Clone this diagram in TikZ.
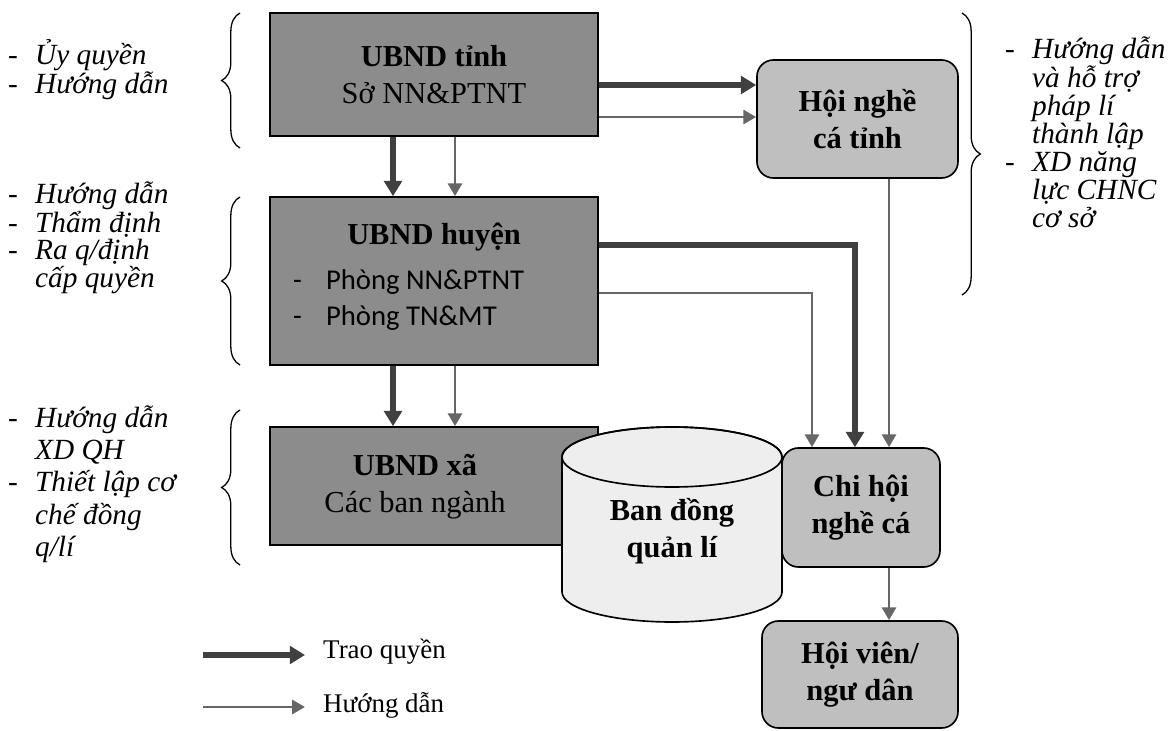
\documentclass[tikz,border=0pt]{standalone}
\usepackage{fontspec}
\setmainfont{Liberation Serif}
\newfontfamily\phongfont{Carlito}
\usetikzlibrary{arrows.meta,decorations.pathreplacing}
\definecolor{hopdam}{RGB}{140,140,140}
\definecolor{hopnhat}{RGB}{191,191,191}
\definecolor{trunhat}{RGB}{238,238,238}
\definecolor{muitrao}{RGB}{64,64,64}
\definecolor{muihd}{RGB}{102,102,102}
\newcommand{\gach}[1]{\makebox[23pt][l]{-}#1}
\newcommand{\lui}[1]{\hspace*{23pt}#1}
\tikzset{hopvuong/.style={draw, line width=1.4pt, fill=hopdam, inner sep=0pt, align=center, font=\fontsize{26}{31.5}\selectfont},
  hoptron/.style={draw, line width=1.4pt, fill=hopnhat, rounded corners=14pt, inner sep=0pt, align=center, font=\fontsize{26}{31}\selectfont\bfseries},
  trao/.style={draw=muitrao, line width=4.6pt, -{Triangle[length=13pt,width=15pt]}},
  huongdan/.style={draw=muihd, line width=2.5pt, -{Triangle[length=11pt,width=12pt]}},
  ngoac/.style={decorate, decoration={brace, amplitude=0.55cm}, line width=1.1pt},
  ghichu/.style={anchor=west, inner sep=0pt, align=left, font=\fontsize{25}{23}\selectfont\itshape},
  chuthich/.style={anchor=west, inner xsep=0.54cm, inner ysep=0pt, font=\fontsize{23}{26}\selectfont}}

\begin{document}
\begin{tikzpicture}[x=0.03cm, y=-0.03cm]
  \useasboundingbox (0,0) rectangle (1171,731);

  \node[hopvuong, minimum width=9.84cm, minimum height=3.69cm] (tinh) at (434,74.5) {\textbf{UBND tỉnh}\\Sở NN\&PTNT};
  \node[hopvuong, minimum width=9.84cm, minimum height=5.04cm] (huyen) at (434,281) {};
  \node[font=\fontsize{26}{31}\selectfont\bfseries] (huyenten) at (434,237) {UBND huyện};
  \node[anchor=west, inner sep=0pt, align=left, font=\phongfont\fontsize{24.5}{31.5}\selectfont] (phong) at (293,300) {\makebox[28pt][l]{-}Phòng NN\&PTNT\\\makebox[28pt][l]{-}Phòng TN\&MT};
  \node[hopvuong, minimum width=9.84cm, minimum height=3.54cm] (xa) at (434,486) {};
  \node[align=center, font=\fontsize{26}{31.5}\selectfont] (xaten) at (415,487) {\textbf{UBND xã}\\Các ban ngành};

  \filldraw[fill=trunhat, line width=1.4pt] (562,457) -- (562,592) arc[start angle=180, end angle=0, x radius=110, y radius=30] -- (782,457) arc[start angle=0, end angle=-180, x radius=110, y radius=30] -- cycle;
  \draw[line width=1.4pt] (672,457) ellipse[x radius=110, y radius=30];
  \node[align=center, font=\fontsize{26}{32}\selectfont\bfseries] (ban) at (672,531) {Ban đồng\\quản lí};

  \node[hoptron, minimum width=6.03cm, minimum height=3.54cm] (hoitinh) at (857.5,119) {Hội nghề\\cá tỉnh};
  \node[hoptron, minimum width=4.74cm, minimum height=3.57cm] (chihoi) at (861,507.5) {Chi hội\\nghề cá};
  \node[hoptron, minimum width=5.88cm, minimum height=3.21cm] (hoivien) at (860,674.5) {Hội viên/\\ngư dân};

  \draw[trao] (tinh.east |- 0,85) -- (hoitinh.west |- 0,85);
  \draw[huongdan] (tinh.east |- 0,117) -- (hoitinh.west |- 0,117);
  \draw[trao] (tinh.south -| 393,0) -- (huyen.north -| 393,0);
  \draw[huongdan] (tinh.south -| 455,0) -- (huyen.north -| 455,0);
  \draw[trao] (huyen.south -| 393,0) -- (xa.north -| 393,0);
  \draw[huongdan] (huyen.south -| 455,0) -- (xa.north -| 455,0);
  \draw[trao] (huyen.east |- 0,245) -| (chihoi.north -| 855,0);
  \draw[huongdan] (huyen.east |- 0,293) -| (chihoi.north -| 812,0);
  \draw[huongdan] (hoitinh.south -| 889,0) -- (chihoi.north -| 889,0);
  \draw[huongdan] (chihoi.south -| 889,0) -- (hoivien.north -| 889,0);

  \draw[ngoac] (240,148) -- (240,13);
  \draw[ngoac] (240,365) -- (240,197);
  \draw[ngoac] (240,565) -- (240,410);
  \draw[ngoac] (962,13) -- (962,295);

  \node[ghichu] (gc1) at (8,70) {\gach{Ủy quyền}\\\gach{Hướng dẫn}};
  \node[ghichu] (gc2) at (8,238) {\gach{Hướng dẫn}\\\gach{Thẩm định}\\\gach{Ra q/định}\\\lui{cấp quyền}};
  \node[ghichu, font=\fontsize{25}{27.6}\selectfont\itshape] (gc3) at (8,484) {\gach{Hướng dẫn}\\\lui{XD QH}\\\gach{Thiết lập cơ}\\\lui{chế đồng}\\\lui{q/lí}};
  \node[ghichu, font=\fontsize{25}{23.8}\selectfont\itshape] (gc4) at (1005,132) {\gach{Hướng dẫn}\\\lui{và hỗ trợ}\\\lui{pháp lí}\\\lui{thành lập}\\\gach{XD năng}\\\lui{lực CHNC}\\\lui{cơ sở}};

  \coordinate (tq0) at (203,655);
  \coordinate (hd0) at (203,707);
  \node[chuthich] (tq) at (305,652) {Trao quyền};
  \node[chuthich] (hd) at (305,705) {Hướng dẫn};
  \draw[trao] (tq0) -- (tq.west |- tq0);
  \draw[huongdan] (hd0) -- (hd.west |- hd0);
\end{tikzpicture}
\end{document}
